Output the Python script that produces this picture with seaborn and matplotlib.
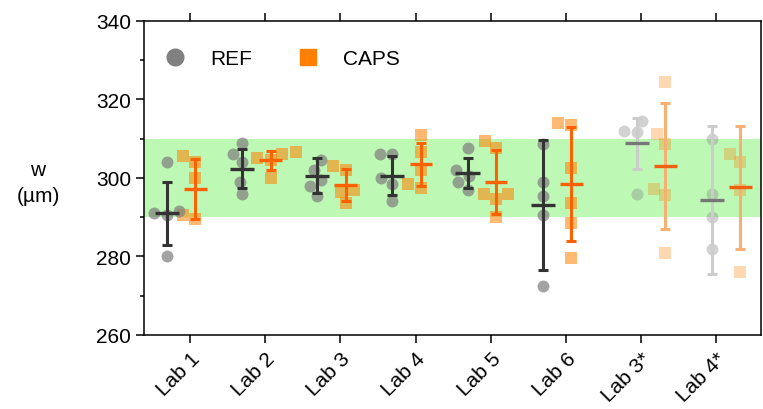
import numpy as np
import pandas as pd
import matplotlib
matplotlib.use('Agg')
import matplotlib.pyplot as plt
import seaborn as sns
from matplotlib.lines import Line2D
from matplotlib.ticker import MultipleLocator

# values
labs = ['Lab 1', 'Lab 2', 'Lab 3', 'Lab 4', 'Lab 5', 'Lab 6', 'Lab 3*', 'Lab 4*']

ref_points = [
    [304.0, 291.5, 291.0, 290.5, 280.0],
    [309.0, 306.0, 304.0, 299.0, 296.0],
    [304.5, 302.0, 299.5, 298.0, 295.5],
    [306.0, 306.0, 300.0, 298.5, 294.0],
    [307.5, 302.0, 300.5, 299.0, 297.0],
    [308.5, 299.0, 295.5, 290.5, 272.5],
    [314.5, 312.0, 311.8, 296.0],
    [310.0, 296.0, 290.0, 282.0],
]
caps_points = [
    [305.5, 304.0, 300.0, 290.5, 289.5],
    [306.5, 306.0, 305.0, 304.5, 300.0],
    [303.0, 302.0, 297.0, 296.5, 293.5],
    [311.0, 306.5, 302.0, 298.5, 297.5],
    [309.5, 307.5, 296.0, 296.0, 294.5, 290.0],
    [314.0, 313.5, 302.5, 293.5, 288.5, 279.5],
    [324.5, 311.2, 308.6, 297.2, 295.6, 280.9],
    [306.0, 304.0, 297.0, 276.0],
]

ref_mean = [291.0, 302.3, 300.6, 300.6, 301.2, 293.1, 308.8, 294.4]
ref_sd = [8.0, 5.0, 4.5, 4.9, 3.8, 16.5, 6.5, 18.8]
caps_mean = [297.2, 304.5, 298.2, 303.5, 298.9, 298.4, 303.0, 297.6]
caps_sd = [7.6, 2.4, 4.0, 5.5, 8.1, 14.5, 16.0, 15.6]

starred = [False] * 6 + [True] * 2

# group centres sit a little off the ticks (as in the original Prism layout)
group_pos = [k - 0.12 for k in range(6)] + [k + 0.13 for k in (6, 7)]
offset = 0.19

rows = []
for i, lab in enumerate(labs):
    for v in ref_points[i]:
        rows.append({'lab': lab, 'method': 'REF', 'w': v, 'x': group_pos[i] - offset, 'star': starred[i]})
    for v in caps_points[i]:
        rows.append({'lab': lab, 'method': 'CAPS', 'w': v, 'x': group_pos[i] + offset, 'star': starred[i]})
df = pd.DataFrame(rows)

sns.set_style('ticks')
plt.rcParams['font.family'] = ['Liberation Sans', 'DejaVu Sans']
plt.rcParams['text.color'] = 'black'
plt.rcParams['xtick.color'] = 'black'
plt.rcParams['ytick.color'] = 'black'
plt.rcParams['axes.labelcolor'] = 'black'

fig, ax = plt.subplots(figsize=(7.63, 4.10), dpi=100)
fig.subplots_adjust(left=0.189, right=0.998, top=0.947, bottom=0.1805)

ax.axhspan(290, 310, color='#bdf8b5', lw=0, zorder=0)

point_style = {
    ('REF', False): ('o', '#808080', 0.72, 8.6),
    ('REF', True): ('o', '#808080', 0.35, 8.6),
    ('CAPS', False): ('s', '#ff8000', 0.55, 9.2),
    ('CAPS', True): ('s', '#ff8000', 0.3, 9.2),
}
for (method, star), sub in df.groupby(['method', 'star']):
    marker, color, alpha, size = point_style[(method, star)]
    sns.swarmplot(data=sub, x='x', y='w', native_scale=True, orient='x',
                  marker=marker, color=color, alpha=alpha, size=size,
                  linewidth=0, ax=ax, zorder=2)

for i in range(len(labs)):
    xr = group_pos[i] - offset
    xc = group_pos[i] + offset
    if starred[i]:
        rbar, rmean, cbar, cmean = '#cccccc', '#777777', '#f8b070', '#f06010'
    else:
        rbar, rmean, cbar, cmean = '#333333', '#333333', '#ff6000', '#ff6000'
    ax.errorbar(xr, ref_mean[i], yerr=ref_sd[i], fmt='none', ecolor=rbar,
                elinewidth=2.2, capsize=3.3, capthick=2.2, zorder=3)
    ax.hlines(ref_mean[i], xr - 0.16, xr + 0.16, colors=rmean, lw=2.4, zorder=4)
    ax.errorbar(xc, caps_mean[i], yerr=caps_sd[i], fmt='none', ecolor=cbar,
                elinewidth=2.2, capsize=3.3, capthick=2.2, zorder=3)
    ax.hlines(caps_mean[i], xc - 0.15, xc + 0.15, colors=cmean, lw=2.4, zorder=4)

ax.set_xlim(-0.61, 7.60)
ax.set_ylim(260, 340)
ax.set_yticks(np.arange(260, 341, 20))
ax.yaxis.set_minor_locator(MultipleLocator(10))
ax.set_xticks(range(len(labs)))
ax.set_xticklabels(labs, rotation=45, ha='right', rotation_mode='anchor')
ax.set_xlabel('')
ax.set_ylabel('w\n(µm)', rotation=0, fontsize=15, linespacing=1.5, ha='center', va='center')
ax.yaxis.set_label_coords(-0.172, 0.485)

ax.tick_params(axis='both', which='major', labelsize=15, length=5.8, width=1.1, color='black')
ax.tick_params(axis='y', which='minor', length=3, width=1.1, color='black')
ax.tick_params(axis='x', top=True, pad=4)
for s in ax.spines.values():
    s.set_linewidth(1.1)
    s.set_color('black')

handles = [
    Line2D([], [], marker='o', color='#808080', ls='none', markersize=12),
    Line2D([], [], marker='s', color='#ff8000', ls='none', markersize=11.5),
]
ax.legend(handles, ['REF', 'CAPS'], loc='upper left', ncol=2, frameon=False,
          fontsize=15, handletextpad=0.7, columnspacing=1.7,
          bbox_to_anchor=(-0.015, 0.97))

fig.savefig('out.png', dpi=100)
